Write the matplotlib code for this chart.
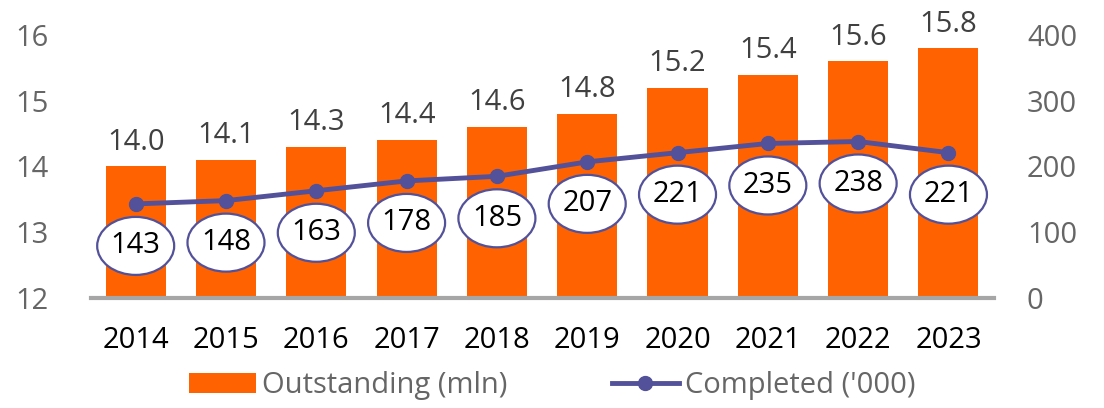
import matplotlib
matplotlib.use("Agg")
import matplotlib.pyplot as plt
from matplotlib.lines import Line2D
from matplotlib.patches import Patch, Ellipse
from matplotlib.transforms import Affine2D, ScaledTranslation

years = ["2014", "2015", "2016", "2017", "2018", "2019", "2020", "2021", "2022", "2023"]
outstanding = [14.0, 14.1, 14.3, 14.4, 14.6, 14.8, 15.2, 15.4, 15.6, 15.8]
outstanding_labels = ["14.0", "14.1", "14.3", "14.4", "14.6", "14.8", "15.2", "15.4", "15.6", "15.8"]
completed = [143, 148, 163, 178, 185, 207, 221, 235, 238, 221]
left_ticks = [12, 13, 14, 15, 16]
right_ticks = [0, 100, 200, 300, 400]

plt.rcParams['font.family'] = ['Open Sans', 'DejaVu Sans']
ORANGE = "#FF6200"
PURPLE = "#525199"
GRAY = "#666666"
FS = 21
DPI = 100

fig = plt.figure(figsize=(11.04, 4.08), dpi=DPI)
ax = fig.add_axes([0.082, 0.270, 0.818, 0.644])
x = list(range(len(years)))
ax.bar(x, [v - 12 for v in outstanding], bottom=12, width=0.665, color=ORANGE, zorder=2)
ax.set_xlim(-0.5, 9.5)
ax.set_ylim(12, 16)
ax.set_yticks(left_ticks)
ax.set_yticklabels([str(t) for t in left_ticks])
ax.set_xticks(x)
ax.set_xticklabels(years)
for s in ["top", "right", "left"]:
    ax.spines[s].set_visible(False)
ax.spines["bottom"].set_color("#A6A6A6")
ax.spines["bottom"].set_linewidth(3)
ax.tick_params(axis="y", length=0, labelsize=FS, colors=GRAY, pad=30)
ax.tick_params(axis="x", length=0, labelsize=FS, colors="black", pad=20)
for xi, v, lab in zip(x, outstanding, outstanding_labels):
    ax.annotate(lab, (xi, v), xytext=(0, 7), textcoords="offset points",
                ha="center", va="bottom", fontsize=FS, color="#404040")

ax2 = ax.twinx()
ax2.set_ylim(0, 400)
ax2.set_yticks(right_ticks)
ax2.set_yticklabels([str(t) for t in right_ticks])
for s in ["top", "right", "left", "bottom"]:
    ax2.spines[s].set_visible(False)
ax2.tick_params(axis="y", length=0, labelsize=FS, colors=GRAY, pad=24)
ax2.plot(x, completed, color=PURPLE, lw=3.5, marker="o", ms=10, zorder=3)

OFF_PX = 42
for xi, v in zip(x, completed):
    tr = Affine2D().translate(0, -OFF_PX) + ScaledTranslation(xi, v, ax2.transData)
    e = Ellipse((0, 0), 77, 58, transform=tr, facecolor="white", edgecolor=PURPLE,
                lw=1.6, zorder=4, clip_on=False)
    ax2.add_patch(e)
    ax2.annotate(str(v), (xi, v), xytext=(0, -OFF_PX * 72 / DPI), textcoords="offset points",
                 ha="center", va="center", fontsize=FS, color="black", zorder=5)

handles = [Patch(facecolor=ORANGE, edgecolor="none", label="Outstanding (mln)"),
           Line2D([0], [0], color=PURPLE, lw=3.5, marker="o", ms=10, label="Completed ('000)")]
fig.legend(handles=handles, loc="lower center", bbox_to_anchor=(0.5, -0.045), ncol=2,
           frameon=False, fontsize=FS, labelcolor=GRAY, handlelength=2.3,
           handletextpad=0.2, columnspacing=3.6)

fig.savefig("out.png", dpi=DPI)
